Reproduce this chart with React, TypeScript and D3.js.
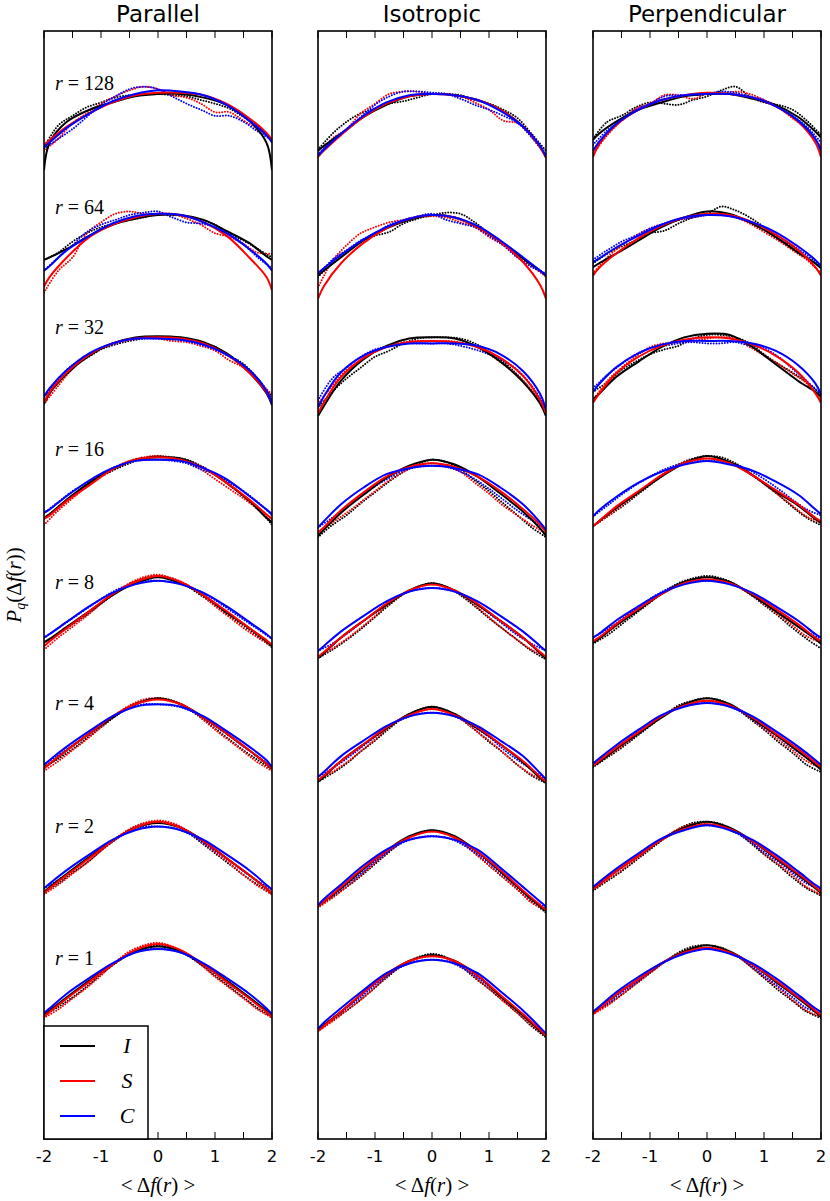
import React from "react";
import * as d3 from "d3";

// ---------- data ----------
const panelTitles = ["Parallel", "Isotropic", "Perpendicular"];
const levelLabels = ["128", "64", "32", "16", "8", "4", "2", "1"];
const levelOffsets = [7, 6, 5, 4, 3, 2, 1, 0];
const labelValues = [0.76, 0.74, 0.75, 0.74, 0.64, 0.64, 0.63, 0.54];
const tickValues = [-2, -1.5, -1, -0.5, 0, 0.5, 1, 1.5, 2];
const tickLabels = ["-2", "-1", "0", "1", "2"];
const seriesNames = ["I", "S", "C"];
const seriesColors = ["#000000", "#ff0000", "#0000ff"];

// x positions of the fitted-curve samples and of the measured points
const fitX = [-2, -1.9, -1.6, -1.2, -0.8, -0.4, 0, 0.4, 0.8, 1.2, 1.6, 1.9, 2];
const dotX = [-2, -1.75, -1.5, -1.25, -1, -0.75, -0.5, -0.25, 0, 0.25, 0.5, 0.75, 1, 1.25, 1.5, 1.75, 2];

// ---- Parallel ----
const parallelI = [
  [0.05, 0.28, 0.45, 0.55, 0.61, 0.66, 0.68, 0.68, 0.65, 0.59, 0.46, 0.28, 0.05],
  [0.31, 0.33, 0.40, 0.51, 0.60, 0.65, 0.68, 0.68, 0.64, 0.55, 0.45, 0.34, 0.31],
  [0.12, 0.21, 0.37, 0.52, 0.62, 0.67, 0.68, 0.67, 0.63, 0.54, 0.38, 0.21, 0.11],
  [0.18, 0.21, 0.33, 0.47, 0.58, 0.66, 0.68, 0.67, 0.59, 0.47, 0.32, 0.18, 0.14],
  [0.15, 0.18, 0.28, 0.41, 0.54, 0.64, 0.69, 0.64, 0.54, 0.40, 0.27, 0.16, 0.12],
  [0.12, 0.15, 0.26, 0.40, 0.53, 0.64, 0.69, 0.64, 0.53, 0.40, 0.26, 0.15, 0.11],
  [0.09, 0.13, 0.24, 0.38, 0.51, 0.62, 0.66, 0.62, 0.51, 0.37, 0.23, 0.12, 0.08],
  [0.07, 0.11, 0.22, 0.36, 0.49, 0.60, 0.64, 0.60, 0.49, 0.36, 0.22, 0.11, 0.07],
];
const parallelS = [
  [0.26, 0.30, 0.41, 0.52, 0.61, 0.67, 0.69, 0.69, 0.67, 0.60, 0.48, 0.36, 0.30],
  [0.09, 0.17, 0.33, 0.50, 0.60, 0.66, 0.69, 0.68, 0.62, 0.51, 0.33, 0.17, 0.06],
  [0.13, 0.22, 0.38, 0.53, 0.62, 0.66, 0.67, 0.66, 0.62, 0.53, 0.38, 0.22, 0.13],
  [0.17, 0.20, 0.32, 0.45, 0.58, 0.66, 0.68, 0.66, 0.59, 0.47, 0.33, 0.21, 0.17],
  [0.12, 0.16, 0.27, 0.41, 0.55, 0.65, 0.70, 0.65, 0.54, 0.41, 0.27, 0.17, 0.13],
  [0.11, 0.15, 0.26, 0.40, 0.54, 0.64, 0.68, 0.64, 0.53, 0.40, 0.26, 0.15, 0.11],
  [0.08, 0.12, 0.23, 0.37, 0.51, 0.62, 0.67, 0.62, 0.51, 0.37, 0.23, 0.12, 0.08],
  [0.06, 0.10, 0.21, 0.35, 0.49, 0.61, 0.66, 0.61, 0.49, 0.35, 0.21, 0.10, 0.06],
];
const parallelC = [
  [0.24, 0.28, 0.40, 0.52, 0.62, 0.68, 0.71, 0.70, 0.67, 0.59, 0.46, 0.34, 0.28],
  [0.22, 0.26, 0.39, 0.51, 0.61, 0.67, 0.69, 0.68, 0.62, 0.53, 0.40, 0.28, 0.22],
  [0.18, 0.25, 0.40, 0.54, 0.62, 0.66, 0.66, 0.65, 0.61, 0.53, 0.40, 0.23, 0.12],
  [0.22, 0.25, 0.36, 0.49, 0.59, 0.65, 0.66, 0.65, 0.59, 0.50, 0.36, 0.25, 0.21],
  [0.19, 0.22, 0.32, 0.45, 0.56, 0.63, 0.66, 0.63, 0.56, 0.45, 0.32, 0.22, 0.18],
  [0.14, 0.18, 0.29, 0.42, 0.54, 0.62, 0.64, 0.62, 0.54, 0.42, 0.29, 0.18, 0.12],
  [0.12, 0.16, 0.27, 0.40, 0.52, 0.60, 0.63, 0.60, 0.52, 0.40, 0.27, 0.15, 0.11],
  [0.09, 0.13, 0.25, 0.38, 0.50, 0.59, 0.62, 0.59, 0.50, 0.38, 0.25, 0.13, 0.08],
];
const parallelIDots = [
  [0.24, 0.42, 0.50, 0.57, 0.61, 0.65, 0.67, 0.68, 0.68, 0.67, 0.66, 0.63, 0.60, 0.56, 0.49, 0.41, 0.30],
  [0.31, 0.37, 0.46, 0.53, 0.58, 0.61, 0.64, 0.66, 0.69, 0.68, 0.67, 0.64, 0.60, 0.53, 0.47, 0.40, 0.33],
  [0.18, 0.33, 0.44, 0.50, 0.57, 0.61, 0.64, 0.66, 0.67, 0.67, 0.65, 0.62, 0.59, 0.52, 0.45, 0.33, 0.18],
  [0.17, 0.27, 0.36, 0.45, 0.52, 0.58, 0.63, 0.67, 0.69, 0.68, 0.66, 0.61, 0.54, 0.45, 0.36, 0.26, 0.12],
  [0.15, 0.22, 0.30, 0.38, 0.47, 0.56, 0.63, 0.68, 0.70, 0.68, 0.62, 0.54, 0.46, 0.37, 0.29, 0.20, 0.11],
  [0.12, 0.19, 0.27, 0.36, 0.45, 0.54, 0.62, 0.67, 0.69, 0.67, 0.61, 0.53, 0.44, 0.35, 0.26, 0.18, 0.10],
  [0.09, 0.16, 0.25, 0.33, 0.43, 0.52, 0.60, 0.65, 0.67, 0.65, 0.59, 0.50, 0.41, 0.32, 0.23, 0.15, 0.07],
  [0.07, 0.14, 0.22, 0.31, 0.41, 0.50, 0.58, 0.63, 0.65, 0.63, 0.57, 0.49, 0.40, 0.31, 0.22, 0.13, 0.06],
];
const parallelSDots = [
  [0.21, 0.31, 0.44, 0.52, 0.60, 0.66, 0.71, 0.74, 0.72, 0.67, 0.65, 0.60, 0.53, 0.53, 0.46, 0.39, 0.30],
  [0.04, 0.22, 0.33, 0.53, 0.62, 0.69, 0.71, 0.69, 0.69, 0.69, 0.65, 0.60, 0.53, 0.50, 0.44, 0.37, 0.36],
  [0.12, 0.27, 0.41, 0.51, 0.58, 0.62, 0.65, 0.67, 0.66, 0.64, 0.63, 0.60, 0.56, 0.48, 0.42, 0.31, 0.20],
  [0.12, 0.24, 0.34, 0.44, 0.53, 0.60, 0.65, 0.68, 0.69, 0.67, 0.64, 0.58, 0.50, 0.42, 0.34, 0.25, 0.15],
  [0.09, 0.19, 0.28, 0.37, 0.47, 0.56, 0.64, 0.69, 0.71, 0.68, 0.63, 0.55, 0.45, 0.36, 0.27, 0.19, 0.12],
  [0.09, 0.17, 0.26, 0.35, 0.45, 0.55, 0.63, 0.68, 0.69, 0.67, 0.62, 0.53, 0.43, 0.34, 0.25, 0.16, 0.09],
  [0.07, 0.15, 0.24, 0.33, 0.43, 0.53, 0.61, 0.66, 0.68, 0.66, 0.60, 0.51, 0.42, 0.33, 0.23, 0.14, 0.07],
  [0.05, 0.12, 0.21, 0.30, 0.40, 0.51, 0.60, 0.65, 0.67, 0.64, 0.58, 0.49, 0.39, 0.30, 0.21, 0.12, 0.05],
];
const parallelCDots = [
  [0.23, 0.31, 0.39, 0.49, 0.59, 0.66, 0.72, 0.74, 0.72, 0.66, 0.60, 0.55, 0.50, 0.50, 0.45, 0.37, 0.30],
  [0.22, 0.33, 0.43, 0.54, 0.60, 0.64, 0.68, 0.70, 0.71, 0.66, 0.62, 0.61, 0.58, 0.53, 0.44, 0.33, 0.24],
  [0.18, 0.31, 0.42, 0.51, 0.58, 0.62, 0.65, 0.66, 0.66, 0.66, 0.64, 0.61, 0.57, 0.51, 0.44, 0.33, 0.16],
  [0.22, 0.31, 0.40, 0.47, 0.54, 0.60, 0.64, 0.66, 0.66, 0.65, 0.63, 0.58, 0.54, 0.47, 0.40, 0.31, 0.20],
  [0.19, 0.27, 0.35, 0.43, 0.51, 0.58, 0.63, 0.66, 0.66, 0.65, 0.62, 0.57, 0.50, 0.42, 0.34, 0.26, 0.18],
  [0.14, 0.22, 0.30, 0.38, 0.47, 0.55, 0.61, 0.64, 0.64, 0.63, 0.60, 0.54, 0.46, 0.38, 0.29, 0.21, 0.12],
  [0.12, 0.19, 0.27, 0.36, 0.45, 0.53, 0.59, 0.63, 0.63, 0.62, 0.58, 0.51, 0.43, 0.35, 0.26, 0.18, 0.11],
  [0.09, 0.16, 0.25, 0.34, 0.43, 0.51, 0.57, 0.61, 0.62, 0.61, 0.57, 0.50, 0.42, 0.33, 0.25, 0.16, 0.08],
];

// ---- Isotropic ----
const isoI = [
  [0.21, 0.25, 0.35, 0.49, 0.59, 0.66, 0.68, 0.67, 0.63, 0.55, 0.41, 0.24, 0.16],
  [0.18, 0.22, 0.33, 0.47, 0.57, 0.64, 0.68, 0.66, 0.58, 0.46, 0.32, 0.22, 0.18],
  [0.02, 0.10, 0.31, 0.49, 0.60, 0.66, 0.67, 0.66, 0.59, 0.47, 0.30, 0.12, 0.02],
  [0.03, 0.08, 0.22, 0.37, 0.51, 0.61, 0.66, 0.62, 0.52, 0.38, 0.23, 0.09, 0.03],
  [0.02, 0.06, 0.19, 0.33, 0.46, 0.58, 0.64, 0.58, 0.46, 0.33, 0.19, 0.06, 0.02],
  [0.00, 0.04, 0.17, 0.31, 0.44, 0.56, 0.62, 0.56, 0.44, 0.31, 0.16, 0.03, -0.01],
  [-0.03, 0.01, 0.12, 0.28, 0.43, 0.55, 0.60, 0.55, 0.42, 0.26, 0.09, -0.03, -0.07],
  [-0.05, -0.01, 0.10, 0.26, 0.41, 0.52, 0.57, 0.52, 0.40, 0.23, 0.07, -0.06, -0.10],
];
const isoS = [
  [0.16, 0.21, 0.34, 0.49, 0.60, 0.66, 0.68, 0.67, 0.63, 0.55, 0.41, 0.24, 0.15],
  [-0.01, 0.09, 0.28, 0.45, 0.57, 0.65, 0.68, 0.66, 0.58, 0.46, 0.29, 0.10, -0.01],
  [0.04, 0.13, 0.34, 0.50, 0.59, 0.63, 0.64, 0.63, 0.59, 0.50, 0.35, 0.15, 0.04],
  [0.06, 0.10, 0.24, 0.39, 0.52, 0.60, 0.63, 0.60, 0.52, 0.40, 0.25, 0.12, 0.06],
  [0.03, 0.07, 0.19, 0.33, 0.47, 0.58, 0.63, 0.58, 0.47, 0.33, 0.19, 0.07, 0.03],
  [0.01, 0.05, 0.17, 0.31, 0.45, 0.55, 0.60, 0.55, 0.45, 0.31, 0.17, 0.04, 0.00],
  [-0.03, 0.01, 0.13, 0.29, 0.43, 0.54, 0.59, 0.54, 0.42, 0.27, 0.10, -0.02, -0.06],
  [-0.06, -0.02, 0.10, 0.26, 0.41, 0.52, 0.56, 0.52, 0.40, 0.24, 0.08, -0.05, -0.10],
];
const isoC = [
  [0.17, 0.22, 0.35, 0.50, 0.61, 0.67, 0.68, 0.67, 0.63, 0.54, 0.41, 0.25, 0.16],
  [0.20, 0.24, 0.35, 0.48, 0.58, 0.65, 0.68, 0.66, 0.59, 0.47, 0.33, 0.22, 0.18],
  [0.09, 0.18, 0.38, 0.52, 0.59, 0.62, 0.62, 0.62, 0.60, 0.53, 0.39, 0.20, 0.07],
  [0.10, 0.15, 0.29, 0.43, 0.54, 0.59, 0.61, 0.59, 0.54, 0.43, 0.29, 0.14, 0.08],
  [0.08, 0.12, 0.24, 0.37, 0.49, 0.57, 0.60, 0.57, 0.49, 0.37, 0.24, 0.12, 0.08],
  [0.04, 0.08, 0.21, 0.34, 0.46, 0.54, 0.57, 0.54, 0.46, 0.34, 0.21, 0.07, 0.02],
  [-0.02, 0.03, 0.15, 0.31, 0.44, 0.52, 0.55, 0.52, 0.44, 0.29, 0.13, 0.01, -0.03],
  [-0.04, 0.01, 0.13, 0.28, 0.42, 0.50, 0.53, 0.50, 0.42, 0.27, 0.11, -0.03, -0.08],
];
const isoIDots = [
  [0.22, 0.35, 0.45, 0.52, 0.56, 0.60, 0.62, 0.65, 0.68, 0.68, 0.67, 0.63, 0.60, 0.55, 0.48, 0.35, 0.21],
  [0.17, 0.28, 0.37, 0.46, 0.51, 0.54, 0.61, 0.65, 0.68, 0.70, 0.69, 0.62, 0.53, 0.44, 0.36, 0.26, 0.18],
  [0.09, 0.22, 0.33, 0.42, 0.51, 0.56, 0.62, 0.66, 0.67, 0.67, 0.66, 0.62, 0.55, 0.47, 0.36, 0.23, 0.07],
  [0.02, 0.12, 0.20, 0.30, 0.39, 0.48, 0.56, 0.62, 0.66, 0.64, 0.58, 0.49, 0.40, 0.30, 0.20, 0.10, 0.02],
  [0.02, 0.09, 0.17, 0.26, 0.36, 0.46, 0.55, 0.61, 0.64, 0.61, 0.54, 0.45, 0.35, 0.26, 0.17, 0.08, 0.01],
  [0.00, 0.07, 0.15, 0.25, 0.34, 0.44, 0.53, 0.59, 0.62, 0.59, 0.52, 0.43, 0.33, 0.24, 0.14, 0.05, -0.01],
  [-0.03, 0.05, 0.13, 0.22, 0.32, 0.42, 0.51, 0.57, 0.60, 0.57, 0.51, 0.41, 0.31, 0.21, 0.11, 0.01, -0.08],
  [-0.05, 0.03, 0.11, 0.20, 0.30, 0.40, 0.49, 0.55, 0.58, 0.55, 0.48, 0.38, 0.29, 0.19, 0.09, -0.02, -0.11],
];
const isoSDots = [
  [0.16, 0.31, 0.39, 0.52, 0.60, 0.68, 0.70, 0.70, 0.68, 0.68, 0.66, 0.61, 0.55, 0.46, 0.44, 0.34, 0.16],
  [0.08, 0.30, 0.43, 0.53, 0.58, 0.62, 0.64, 0.66, 0.67, 0.66, 0.62, 0.58, 0.50, 0.43, 0.33, 0.26, 0.17],
  [0.12, 0.27, 0.40, 0.48, 0.56, 0.60, 0.63, 0.64, 0.64, 0.64, 0.63, 0.60, 0.53, 0.45, 0.36, 0.23, 0.09],
  [0.05, 0.14, 0.22, 0.31, 0.40, 0.49, 0.56, 0.61, 0.63, 0.61, 0.56, 0.47, 0.38, 0.28, 0.20, 0.12, 0.05],
  [0.03, 0.10, 0.18, 0.27, 0.37, 0.47, 0.55, 0.61, 0.63, 0.61, 0.55, 0.46, 0.36, 0.26, 0.17, 0.09, 0.03],
  [0.01, 0.08, 0.16, 0.25, 0.35, 0.45, 0.53, 0.58, 0.60, 0.58, 0.52, 0.43, 0.34, 0.24, 0.14, 0.06, 0.00],
  [-0.04, 0.04, 0.13, 0.23, 0.33, 0.43, 0.51, 0.57, 0.59, 0.57, 0.50, 0.41, 0.31, 0.21, 0.11, 0.00, -0.06],
  [-0.06, 0.02, 0.11, 0.20, 0.30, 0.41, 0.49, 0.54, 0.56, 0.54, 0.48, 0.39, 0.29, 0.19, 0.09, -0.01, -0.10],
];
const isoCDots = [
  [0.18, 0.30, 0.38, 0.49, 0.59, 0.66, 0.70, 0.70, 0.69, 0.68, 0.64, 0.59, 0.55, 0.50, 0.44, 0.32, 0.17],
  [0.18, 0.31, 0.39, 0.47, 0.53, 0.60, 0.64, 0.67, 0.69, 0.64, 0.61, 0.58, 0.51, 0.43, 0.33, 0.25, 0.20],
  [0.15, 0.33, 0.42, 0.51, 0.57, 0.60, 0.62, 0.62, 0.62, 0.62, 0.60, 0.57, 0.53, 0.48, 0.40, 0.27, 0.09],
  [0.10, 0.18, 0.27, 0.36, 0.44, 0.51, 0.57, 0.60, 0.61, 0.60, 0.56, 0.50, 0.42, 0.33, 0.24, 0.16, 0.08],
  [0.08, 0.14, 0.22, 0.31, 0.40, 0.49, 0.55, 0.59, 0.60, 0.59, 0.55, 0.48, 0.39, 0.30, 0.21, 0.14, 0.08],
  [0.04, 0.11, 0.19, 0.28, 0.37, 0.46, 0.52, 0.56, 0.57, 0.56, 0.52, 0.45, 0.37, 0.27, 0.18, 0.10, 0.02],
  [-0.02, 0.06, 0.15, 0.24, 0.34, 0.43, 0.50, 0.54, 0.55, 0.54, 0.49, 0.42, 0.33, 0.23, 0.13, 0.03, -0.04],
  [-0.04, 0.04, 0.13, 0.22, 0.32, 0.41, 0.48, 0.52, 0.53, 0.52, 0.47, 0.40, 0.31, 0.21, 0.11, 0.01, -0.08],
];

// ---- Perpendicular ----
const perpI = [
  [0.30, 0.35, 0.45, 0.55, 0.61, 0.66, 0.68, 0.68, 0.64, 0.59, 0.49, 0.37, 0.32],
  [0.25, 0.28, 0.36, 0.47, 0.58, 0.66, 0.71, 0.69, 0.61, 0.50, 0.37, 0.28, 0.24],
  [0.16, 0.20, 0.34, 0.47, 0.59, 0.67, 0.70, 0.69, 0.59, 0.45, 0.31, 0.22, 0.18],
  [0.11, 0.15, 0.26, 0.39, 0.52, 0.63, 0.69, 0.64, 0.53, 0.40, 0.28, 0.17, 0.14],
  [0.15, 0.18, 0.29, 0.42, 0.55, 0.65, 0.69, 0.65, 0.54, 0.41, 0.28, 0.18, 0.14],
  [0.13, 0.16, 0.27, 0.40, 0.53, 0.64, 0.69, 0.64, 0.52, 0.39, 0.25, 0.14, 0.10],
  [0.11, 0.15, 0.26, 0.39, 0.52, 0.62, 0.67, 0.62, 0.51, 0.37, 0.23, 0.12, 0.08],
  [0.09, 0.13, 0.24, 0.37, 0.50, 0.60, 0.65, 0.60, 0.49, 0.35, 0.21, 0.10, 0.06],
];
const perpS = [
  [0.16, 0.26, 0.42, 0.55, 0.63, 0.67, 0.69, 0.68, 0.65, 0.58, 0.45, 0.28, 0.16],
  [0.18, 0.24, 0.36, 0.49, 0.59, 0.66, 0.69, 0.68, 0.62, 0.52, 0.39, 0.25, 0.18],
  [0.13, 0.20, 0.37, 0.51, 0.60, 0.65, 0.67, 0.66, 0.61, 0.52, 0.38, 0.21, 0.13],
  [0.11, 0.15, 0.27, 0.40, 0.53, 0.63, 0.67, 0.63, 0.53, 0.41, 0.29, 0.18, 0.15],
  [0.16, 0.19, 0.30, 0.43, 0.55, 0.64, 0.67, 0.64, 0.55, 0.43, 0.30, 0.19, 0.16],
  [0.13, 0.17, 0.28, 0.41, 0.54, 0.63, 0.67, 0.63, 0.53, 0.40, 0.27, 0.16, 0.12],
  [0.11, 0.15, 0.26, 0.39, 0.52, 0.61, 0.65, 0.61, 0.51, 0.38, 0.24, 0.13, 0.09],
  [0.08, 0.12, 0.24, 0.37, 0.50, 0.59, 0.63, 0.59, 0.49, 0.36, 0.22, 0.11, 0.07],
];
const perpC = [
  [0.21, 0.28, 0.43, 0.55, 0.63, 0.67, 0.68, 0.68, 0.65, 0.58, 0.46, 0.31, 0.21],
  [0.29, 0.32, 0.41, 0.51, 0.60, 0.66, 0.68, 0.67, 0.62, 0.54, 0.42, 0.31, 0.26],
  [0.22, 0.28, 0.42, 0.54, 0.61, 0.64, 0.64, 0.64, 0.62, 0.56, 0.44, 0.29, 0.20],
  [0.19, 0.24, 0.35, 0.47, 0.56, 0.62, 0.65, 0.62, 0.57, 0.48, 0.37, 0.25, 0.21],
  [0.19, 0.22, 0.33, 0.45, 0.56, 0.63, 0.66, 0.63, 0.56, 0.45, 0.33, 0.22, 0.19],
  [0.15, 0.19, 0.30, 0.43, 0.55, 0.62, 0.65, 0.62, 0.54, 0.42, 0.29, 0.18, 0.14],
  [0.13, 0.17, 0.28, 0.41, 0.53, 0.60, 0.64, 0.60, 0.52, 0.40, 0.26, 0.15, 0.12],
  [0.10, 0.14, 0.26, 0.39, 0.50, 0.58, 0.62, 0.58, 0.50, 0.38, 0.24, 0.13, 0.10],
];
const perpIDots = [
  [0.31, 0.45, 0.50, 0.57, 0.61, 0.60, 0.59, 0.63, 0.66, 0.71, 0.74, 0.66, 0.61, 0.59, 0.55, 0.46, 0.34],
  [0.28, 0.36, 0.42, 0.47, 0.53, 0.55, 0.61, 0.66, 0.69, 0.75, 0.72, 0.66, 0.58, 0.48, 0.42, 0.33, 0.25],
  [0.22, 0.30, 0.40, 0.47, 0.53, 0.57, 0.60, 0.66, 0.69, 0.69, 0.67, 0.62, 0.53, 0.45, 0.38, 0.30, 0.20],
  [0.11, 0.19, 0.27, 0.36, 0.45, 0.54, 0.62, 0.67, 0.69, 0.68, 0.63, 0.55, 0.46, 0.37, 0.27, 0.18, 0.12],
  [0.14, 0.21, 0.30, 0.39, 0.48, 0.57, 0.64, 0.68, 0.70, 0.68, 0.63, 0.55, 0.46, 0.37, 0.27, 0.18, 0.10],
  [0.12, 0.20, 0.28, 0.37, 0.46, 0.55, 0.63, 0.67, 0.69, 0.67, 0.61, 0.52, 0.43, 0.33, 0.24, 0.14, 0.08],
  [0.10, 0.18, 0.26, 0.35, 0.44, 0.53, 0.61, 0.66, 0.67, 0.65, 0.59, 0.50, 0.40, 0.31, 0.21, 0.12, 0.06],
  [0.09, 0.16, 0.24, 0.33, 0.42, 0.51, 0.59, 0.64, 0.65, 0.63, 0.57, 0.48, 0.38, 0.28, 0.19, 0.10, 0.05],
];
const perpSDots = [
  [0.18, 0.34, 0.46, 0.56, 0.60, 0.67, 0.67, 0.64, 0.68, 0.68, 0.70, 0.68, 0.63, 0.57, 0.48, 0.39, 0.24],
  [0.20, 0.33, 0.43, 0.51, 0.57, 0.61, 0.64, 0.66, 0.68, 0.68, 0.66, 0.61, 0.54, 0.47, 0.39, 0.31, 0.20],
  [0.15, 0.31, 0.42, 0.51, 0.59, 0.62, 0.63, 0.64, 0.66, 0.67, 0.66, 0.59, 0.52, 0.45, 0.37, 0.29, 0.15],
  [0.11, 0.19, 0.28, 0.37, 0.46, 0.55, 0.62, 0.66, 0.67, 0.66, 0.62, 0.55, 0.46, 0.37, 0.28, 0.19, 0.14],
  [0.15, 0.23, 0.32, 0.41, 0.49, 0.57, 0.63, 0.67, 0.67, 0.66, 0.62, 0.55, 0.47, 0.38, 0.29, 0.20, 0.15],
  [0.13, 0.21, 0.29, 0.38, 0.47, 0.55, 0.62, 0.66, 0.67, 0.66, 0.61, 0.53, 0.44, 0.35, 0.26, 0.17, 0.11],
  [0.11, 0.19, 0.27, 0.36, 0.45, 0.54, 0.61, 0.65, 0.65, 0.64, 0.59, 0.51, 0.41, 0.32, 0.23, 0.13, 0.07],
  [0.08, 0.15, 0.24, 0.33, 0.42, 0.51, 0.58, 0.62, 0.63, 0.62, 0.57, 0.48, 0.39, 0.30, 0.20, 0.11, 0.06],
];
const perpCDots = [
  [0.26, 0.38, 0.46, 0.55, 0.60, 0.66, 0.67, 0.67, 0.68, 0.70, 0.69, 0.66, 0.63, 0.57, 0.50, 0.41, 0.28],
  [0.31, 0.39, 0.46, 0.51, 0.57, 0.61, 0.64, 0.66, 0.68, 0.69, 0.66, 0.62, 0.57, 0.50, 0.43, 0.35, 0.26],
  [0.25, 0.36, 0.45, 0.53, 0.58, 0.60, 0.62, 0.63, 0.62, 0.62, 0.63, 0.60, 0.58, 0.51, 0.41, 0.31, 0.20],
  [0.19, 0.28, 0.37, 0.45, 0.52, 0.58, 0.62, 0.65, 0.65, 0.65, 0.62, 0.57, 0.50, 0.42, 0.33, 0.25, 0.20],
  [0.19, 0.26, 0.34, 0.43, 0.51, 0.58, 0.63, 0.66, 0.66, 0.66, 0.62, 0.56, 0.48, 0.40, 0.32, 0.24, 0.18],
  [0.15, 0.23, 0.31, 0.40, 0.48, 0.56, 0.61, 0.64, 0.65, 0.64, 0.60, 0.53, 0.45, 0.37, 0.28, 0.20, 0.14],
  [0.13, 0.21, 0.29, 0.38, 0.46, 0.54, 0.60, 0.63, 0.64, 0.63, 0.58, 0.51, 0.42, 0.34, 0.25, 0.16, 0.11],
  [0.10, 0.17, 0.26, 0.34, 0.43, 0.51, 0.57, 0.61, 0.62, 0.61, 0.57, 0.49, 0.40, 0.31, 0.22, 0.13, 0.09],
];

const panelFits = [
  [parallelI, parallelS, parallelC],
  [isoI, isoS, isoC],
  [perpI, perpS, perpC],
];
const panelDots = [
  [parallelIDots, parallelSDots, parallelCDots],
  [isoIDots, isoSDots, isoCDots],
  [perpIDots, perpSDots, perpCDots],
];

// ---------- layout ----------
const W = 830;
const H = 1201;
const panelLeft = [44, 318, 593];
const panelWidth = 228;
const plotTop = 31;
const plotBottom = 1139;
const SERIF = "'Liberation Serif', 'DejaVu Serif', serif";
const SANS = "'DejaVu Sans', sans-serif";

const yScale = d3.scaleLinear().domain([-0.95, 8.2]).range([plotBottom, plotTop]);

export default function App() {
  const curve = d3.curveCatmullRom.alpha(0.5);

  return (
    <svg
      width={W}
      height={H}
      viewBox={`0 0 ${W} ${H}`}
      style={{ position: "absolute", left: 0, top: 0, display: "block", background: "#fff" }}
    >
      <rect x={0} y={0} width={W} height={H} fill="#fff" />
      <defs>
        {panelLeft.map((left, p) => (
          <clipPath id={`clip-${p}`} key={p}>
            <rect x={left} y={plotTop} width={panelWidth} height={plotBottom - plotTop} />
          </clipPath>
        ))}
      </defs>

      {panelTitles.map((title, p) => {
        const left = panelLeft[p];
        const x = d3.scaleLinear().domain([-2, 2]).range([left, left + panelWidth]);
        const fits = panelFits[p];
        const dots = panelDots[p];
        return (
          <g key={title}>
            <text x={x(0)} y={22} textAnchor="middle" fontFamily={SANS} fontSize={23}>
              {title}
            </text>
            <g clipPath={`url(#clip-${p})`}>
              {/* measured points */}
              {levelOffsets.map((off, li) =>
                dots.map((series, si) => {
                  const line = d3
                    .line<number>()
                    .x((_, i) => x(dotX[i]))
                    .y((v) => yScale(off + v))
                    .curve(curve);
                  return (
                    <path
                      key={`d-${li}-${si}`}
                      d={line(series[li]) || ""}
                      fill="none"
                      stroke={seriesColors[si]}
                      strokeWidth={2}
                      strokeDasharray="0 2.8"
                      strokeLinecap="round"
                    />
                  );
                })
              )}
              {/* fitted curves */}
              {levelOffsets.map((off, li) =>
                fits.map((series, si) => {
                  const line = d3
                    .line<number>()
                    .x((_, i) => x(fitX[i]))
                    .y((v) => yScale(off + v))
                    .curve(curve);
                  return (
                    <path
                      key={`f-${li}-${si}`}
                      d={line(series[li]) || ""}
                      fill="none"
                      stroke={seriesColors[si]}
                      strokeWidth={2}
                    />
                  );
                })
              )}
            </g>
            {/* ticks */}
            {tickValues.map((t) => (
              <g key={`t-${t}`}>
                <line x1={x(t)} x2={x(t)} y1={plotBottom} y2={plotBottom - 7} stroke="#000" strokeWidth={1} />
                <line x1={x(t)} x2={x(t)} y1={plotTop} y2={plotTop + 7} stroke="#000" strokeWidth={1} />
              </g>
            ))}
            {tickLabels.map((lab) => (
              <text key={`tl-${lab}`} x={x(+lab)} y={1162} textAnchor="middle" fontFamily={SANS} fontSize={16.5}>
                {lab}
              </text>
            ))}
            <text x={x(0)} y={1192} textAnchor="middle" fontFamily={SERIF} fontSize={21}>
              <tspan>{"< Δ"}</tspan>
              <tspan fontStyle="italic">f</tspan>
              <tspan>(</tspan>
              <tspan fontStyle="italic">r</tspan>
              <tspan>{") >"}</tspan>
            </text>
            <rect
              x={left}
              y={plotTop}
              width={panelWidth}
              height={plotBottom - plotTop}
              fill="none"
              stroke="#000"
              strokeWidth={1.6}
            />
          </g>
        );
      })}

      {/* level labels in the first panel */}
      {levelLabels.map((lab, li) => (
        <text
          key={`r-${lab}`}
          x={55}
          y={yScale(levelOffsets[li] + labelValues[li]) + 6}
          fontFamily={SERIF}
          fontSize={20}
        >
          <tspan fontStyle="italic">r</tspan>
          <tspan>{` = ${lab}`}</tspan>
        </text>
      ))}

      {/* legend */}
      <g>
        <rect x={44} y={1026} width={104} height={113} fill="#fff" stroke="#000" strokeWidth={1.5} />
        {seriesNames.map((name, si) => {
          const yy = 1046 + si * 35;
          return (
            <g key={name}>
              <line x1={60} x2={95} y1={yy} y2={yy} stroke={seriesColors[si]} strokeWidth={1.8} />
              <text x={127} y={yy + 7} textAnchor="middle" fontFamily={SERIF} fontStyle="italic" fontSize={22}>
                {name}
              </text>
            </g>
          );
        })}
      </g>

      {/* y label */}
      <text
        transform={`translate(21, 585) rotate(-90)`}
        textAnchor="middle"
        fontFamily={SERIF}
        fontSize={21}
      >
        <tspan fontStyle="italic">P</tspan>
        <tspan fontStyle="italic" fontSize={14} dy={4}>q</tspan>
        <tspan dy={-4}>(Δ</tspan>
        <tspan fontStyle="italic">f</tspan>
        <tspan>(</tspan>
        <tspan fontStyle="italic">r</tspan>
        <tspan>))</tspan>
      </text>
    </svg>
  );
}
